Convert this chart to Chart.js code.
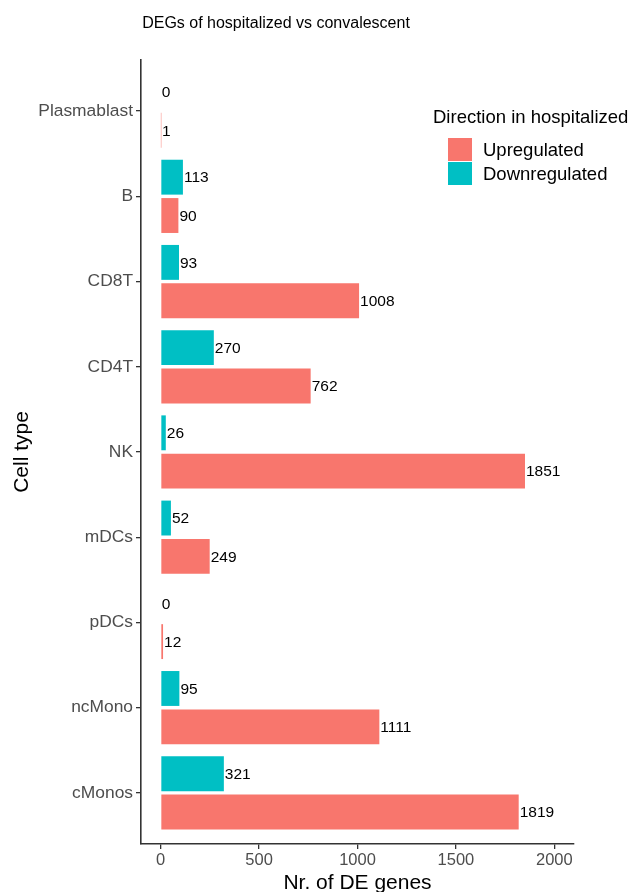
<!DOCTYPE html>
<html>
<head>
<meta charset="utf-8">
<script src="https://cdn.jsdelivr.net/npm/chart.js@4.4.1/dist/chart.umd.min.js"></script>
<style>
  html, body { margin: 0; padding: 0; background: #ffffff; }
  canvas { display: block; }
</style>
</head>
<body>
<canvas id="degChart" width="636" height="892"></canvas>
<script>
// Number of DE genes per cell type, hospitalized vs convalescent
const cellTypes = ['Plasmablast', 'B', 'CD8T', 'CD4T', 'NK', 'mDCs', 'pDCs', 'ncMono', 'cMonos'];
const downregulated = [0, 113, 93, 270, 26, 52, 0, 95, 321];
const upregulated = [1, 90, 1008, 762, 1851, 249, 12, 1111, 1819];
const xTicks = [0, 500, 1000, 1500, 2000];

const FONT = '"Liberation Sans", Arial, Helvetica, sans-serif';
const UP_COLOR = '#F8766D';
const DOWN_COLOR = '#00BFC4';

// bar labels, axis titles, main title and the in-panel legend
const annotations = {
    id: 'annotations',
    afterDatasetsDraw(chart) {
        const ctx = chart.ctx;
        ctx.save();
        ctx.fillStyle = '#000000';
        ctx.font = '15.5px ' + FONT;
        ctx.textAlign = 'left';
        ctx.textBaseline = 'middle';
        chart.data.datasets.forEach((ds, i) => {
            const meta = chart.getDatasetMeta(i);
            meta.data.forEach((bar, j) => {
                ctx.fillText(String(ds.data[j].x), bar.x + 1, bar.y + 1);
            });
        });
        ctx.restore();
    },
    afterDraw(chart) {
        const ctx = chart.ctx;
        const area = chart.chartArea;
        ctx.save();

        // title
        ctx.fillStyle = '#000000';
        ctx.font = '16px ' + FONT;
        ctx.textAlign = 'center';
        ctx.textBaseline = 'alphabetic';
        ctx.fillText('DEGs of hospitalized vs convalescent', 276, 28);

        // axis titles
        ctx.font = '21px ' + FONT;
        ctx.fillText('Nr. of DE genes', (area.left + area.right) / 2, 889);
        ctx.save();
        ctx.translate(28, (area.top + area.bottom) / 2);
        ctx.rotate(-Math.PI / 2);
        ctx.fillText('Cell type', 0, 0);
        ctx.restore();

        // legend, Upregulated listed first
        ctx.textAlign = 'left';
        ctx.textBaseline = 'middle';
        ctx.font = '18.5px ' + FONT;
        ctx.fillStyle = '#000000';
        ctx.fillText('Direction in hospitalized', 433, 118);
        const items = chart.data.datasets.slice().reverse();
        items.forEach((ds, k) => {
            const top = 138 + k * 24;
            ctx.fillStyle = ds.backgroundColor;
            ctx.fillRect(448, top, 24, 23);
            ctx.fillStyle = '#000000';
            ctx.fillText(ds.label, 483, top + 13);
        });
        ctx.restore();
    }
};

const ctx = document.getElementById('degChart').getContext('2d');
const degChart = new Chart(ctx, {
    type: 'bar',
    data: {
        datasets: [{
            label: 'Downregulated',
            data: cellTypes.map((c, i) => ({ x: downregulated[i], y: i })),
            backgroundColor: DOWN_COLOR,
        }, {
            label: 'Upregulated',
            data: cellTypes.map((c, i) => ({ x: upregulated[i], y: i })),
            backgroundColor: UP_COLOR,
        }]
    },
    options: {
        indexAxis: 'y',
        responsive: false,
        animation: false,
        devicePixelRatio: 1,
        categoryPercentage: 0.9,
        barPercentage: 0.91,
        borderWidth: 0,
        layout: { padding: { left: 0, right: 62, top: 60, bottom: 0 } },
        plugins: {
            legend: { display: false },
            tooltip: { enabled: false },
            title: { display: false }
        },
        scales: {
            x: {
                type: 'linear',
                min: -100,
                max: 2100,
                afterBuildTicks: scale => { scale.ticks = xTicks.map(v => ({ value: v })); },
                afterFit: scale => { scale.height = 48; },
                grid: { drawOnChartArea: false, drawTicks: true, tickLength: 5, color: '#333333', lineWidth: 1.3 },
                border: { display: true, color: '#333333', width: 1.6 },
                ticks: {
                    color: '#4D4D4D',
                    padding: 2,
                    font: { family: FONT, size: 16.5 },
                    maxRotation: 0,
                    callback: value => String(value)
                }
            },
            y: {
                type: 'linear',
                min: -0.6,
                max: 8.6,
                reverse: true,
                offset: false,
                afterBuildTicks: scale => { scale.ticks = cellTypes.map((c, i) => ({ value: i })); },
                afterFit: scale => { scale.width = 141; },
                grid: { offset: false, drawOnChartArea: false, drawTicks: true, tickLength: 5, color: '#333333', lineWidth: 1.3 },
                border: { display: true, color: '#333333', width: 1.6 },
                ticks: {
                    color: '#4D4D4D',
                    padding: 3,
                    font: { family: FONT, size: 17.4 },
                    callback: value => cellTypes[value]
                }
            }
        }
    },
    plugins: [annotations]
});
</script>
</body>
</html>
